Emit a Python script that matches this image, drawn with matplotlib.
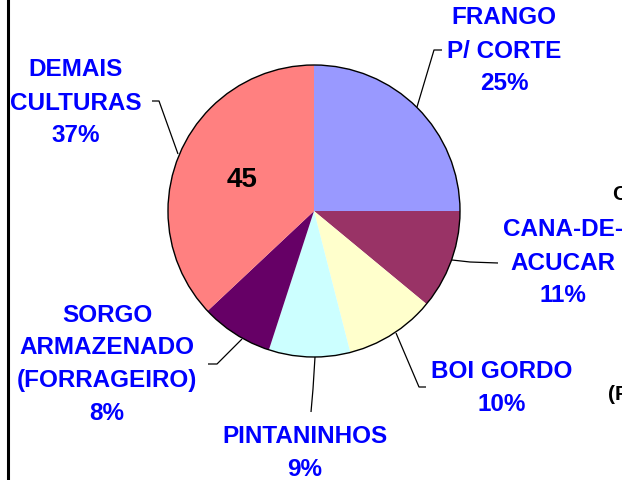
"""Pizza: participacao das atividades (rotulos externos com linhas guia)."""

import matplotlib

matplotlib.use("Agg")
import matplotlib.pyplot as plt  # noqa: E402
from matplotlib.patches import Circle  # noqa: E402

W, H = 622, 481

categorias = [
    "FRANGO\nP/ CORTE",
    "CANA-DE-\nACUCAR",
    "BOI GORDO",
    "PINTANINHOS",
    "SORGO\nARMAZENADO\n(FORRAGEIRO)",
    "DEMAIS\nCULTURAS",
]
valores = [25, 11, 10, 9, 8, 37]
cores = ["#9999FF", "#993366", "#FFFFCC", "#CCFFFF", "#660066", "#FF8080"]

# layout em pixels (origem no canto superior esquerdo)
centro = (314, 212)
raio = 146
pos_rotulos = [(504, 18), (563, 230), (502, 372), (305, 437), (107, 315), (76, 70)]
guias = [
    [(442, 51), (434, 51), (417, 108)],
    [(498, 264), (470, 263), (452, 261)],
    [(426, 388), (419, 388), (396, 334)],
    [(311, 413), (313, 390), (315, 358)],
    [(208, 365), (217, 365), (242, 340)],
    [(152, 102), (159, 102), (178, 155)],
]
passo = 33
azul = "#0000FF"
fonte = "Liberation Sans"


def Y(y):
    return H - y


fig = plt.figure(figsize=(W / 100, H / 100), dpi=100)
ax = fig.add_axes([0, 0, 1, 1])
ax.pie(
    valores,
    colors=cores,
    startangle=90,
    counterclock=False,
    center=(centro[0], Y(centro[1])),
    radius=raio,
    wedgeprops={"linewidth": 0},
)
ax.add_patch(Circle((centro[0], Y(centro[1])), raio, fill=False, ec="black", lw=1.0))
ax.set_xlim(0, W)
ax.set_ylim(0, H)
ax.set_aspect("equal", adjustable="box")
ax.axis("off")

for cat, v, (x0, y0), guia in zip(categorias, valores, pos_rotulos, guias):
    linhas = cat.split("\n") + [f"{v}%"]
    for i, txt in enumerate(linhas):
        ax.text(x0, Y(y0 + i * passo), txt, ha="center", va="center",
                fontsize=17.5, fontweight="bold", color=azul, family=fonte)
    xs = [p[0] for p in guia]
    ys = [Y(p[1]) for p in guia]
    ax.plot(xs, ys, color="black", lw=0.9, solid_capstyle="butt")

# valor dentro da fatia maior
ax.text(242, Y(180), "45", ha="center", va="center", fontsize=20,
        fontweight="bold", color="black", family=fonte)

# restos de texto cortados na borda direita (como no original)
ax.text(612, Y(194), "C", ha="left", va="center", fontsize=15,
        fontweight="bold", color="black", family=fonte)
ax.text(608, Y(395), "(F", ha="left", va="center", fontsize=15,
        fontweight="bold", color="black", family=fonte)

# borda esquerda
ax.plot([7.5, 7.5], [0, H], color="black", lw=2.2)

fig.savefig("out.png", dpi=100)
plt.close(fig)
